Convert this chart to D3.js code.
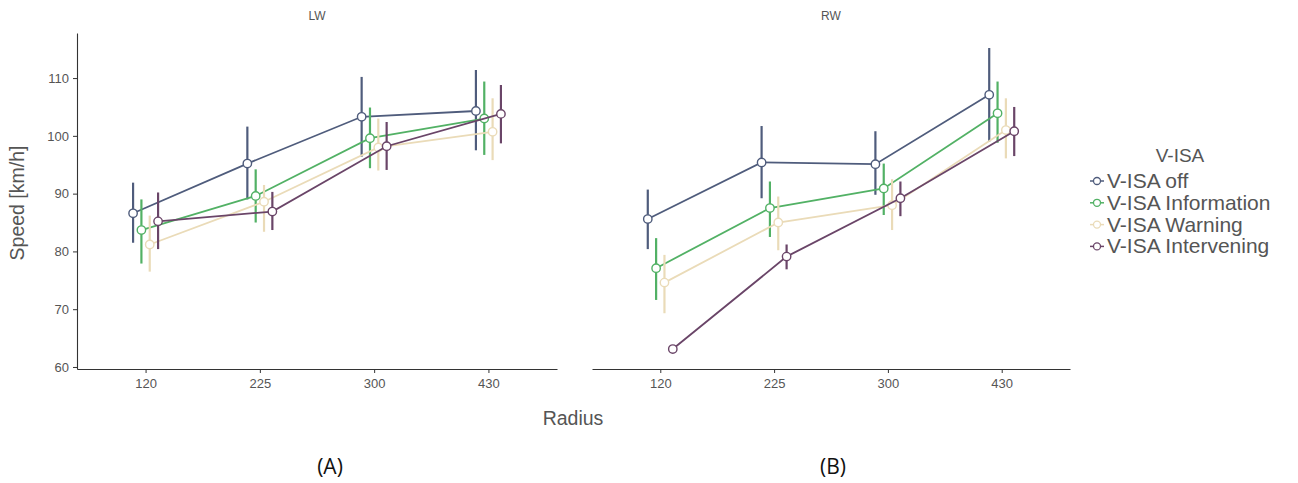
<!DOCTYPE html>
<html>
<head>
<meta charset="utf-8">
<script src="https://cdn.jsdelivr.net/npm/d3@7"></script>
<style>
  html, body { margin: 0; padding: 0; background: #fff; }
  svg { display: block; font-family: "Liberation Sans", Arial, sans-serif; }
</style>
</head>
<body>
<svg id="chart" width="1298" height="483"></svg>
<script>
// ---- data ----
const radii = ['120', '225', '300', '430'];
const seriesNames = ['V-ISA off', 'V-ISA Information', 'V-ISA Warning', 'V-ISA Intervening'];
const seriesColors = ['#4f5c7c', '#52b165', '#eadbb8', '#6a4568'];
const yTicks = [60, 70, 80, 90, 100, 110];

// LW panel: means and [low, high] error bars
const lwOff = [86.6, 95.2, 103.3, 104.3];
const lwOffCI = [[81.5, 91.9], [89.0, 101.6], [96.4, 110.2], [97.5, 111.4]];
const lwInfo = [83.7, 89.6, 99.6, 103.0];
const lwInfoCI = [[77.9, 89.0], [85.0, 94.2], [94.4, 104.9], [96.7, 109.4]];
const lwWarn = [81.2, 88.6, 98.0, 100.7];
const lwWarnCI = [[76.5, 86.2], [83.4, 91.5], [94.0, 103.0], [95.8, 106.5]];
const lwInterv = [85.2, 86.9, 98.2, 103.8];
const lwIntervCI = [[80.4, 90.2], [83.7, 90.3], [94.1, 102.4], [98.7, 108.8]];

// RW panel
const rwOff = [85.6, 95.4, 95.1, 107.1];
const rwOffCI = [[80.4, 90.7], [89.2, 101.7], [89.8, 100.8], [99.0, 115.2]];
const rwInfo = [77.1, 87.5, 90.9, 103.9];
const rwInfoCI = [[71.6, 82.3], [82.5, 92.1], [86.3, 95.2], [98.8, 109.4]];
const rwWarn = [74.6, 85.0, 88.0, 101.0];
const rwWarnCI = [[69.3, 79.4], [80.2, 89.5], [83.7, 92.5], [96.1, 106.5]];
const rwInterv = [63.1, 79.1, 89.2, 100.8];
const rwIntervCI = [[63.1, 63.1], [76.9, 81.2], [86.1, 92.1], [96.5, 105.0]];

const panels = [
  { title: 'LW', range: [77, 557], means: [lwOff, lwInfo, lwWarn, lwInterv], cis: [lwOffCI, lwInfoCI, lwWarnCI, lwIntervCI], yAxis: true },
  { title: 'RW', range: [592, 1070], means: [rwOff, rwInfo, rwWarn, rwInterv], cis: [rwOffCI, rwInfoCI, rwWarnCI, rwIntervCI], yAxis: false }
];

const svg = d3.select('#chart');
const y = d3.scaleLinear().domain([59.65, 117.8]).range([369, 33]);
const dodge = d3.scalePoint().domain(seriesNames).range([-12.5, 12.5]);
const textGrey = '#555';
const axisGrey = '#333';

panels.forEach(p => {
  const x = d3.scalePoint().domain(radii).range(p.range).padding(0.6);
  const g = svg.append('g');

  // x axis
  const xa = g.append('g').attr('transform', `translate(0,${y.range()[0]})`)
    .call(d3.axisBottom(x).tickSize(4).tickPadding(6).tickSizeOuter(0));
  xa.select('.domain').attr('stroke', axisGrey).attr('stroke-width', 1.1);
  xa.selectAll('.tick line').attr('stroke', axisGrey);
  xa.selectAll('.tick text').attr('fill', textGrey).style('font-size', '13px');

  if (p.yAxis) {
    const ya = g.append('g').attr('transform', `translate(${p.range[0]},0)`)
      .call(d3.axisLeft(y).tickValues(yTicks).tickSize(4).tickPadding(4).tickSizeOuter(0));
    ya.select('.domain').attr('stroke', axisGrey).attr('stroke-width', 1.1);
    ya.selectAll('.tick line').attr('stroke', axisGrey);
    ya.selectAll('.tick text').attr('fill', textGrey).style('font-size', '13px');
  }

  g.append('text').attr('x', (p.range[0] + p.range[1]) / 2).attr('y', 20)
    .attr('text-anchor', 'middle').attr('fill', textGrey).style('font-size', '12px').text(p.title);

  seriesNames.forEach((name, si) => {
    const col = seriesColors[si];
    const pts = radii.map((r, i) => ({ x: x(r) + dodge(name), m: p.means[si][i], lo: p.cis[si][i][0], hi: p.cis[si][i][1] }));
    const line = d3.line().x(d => d.x).y(d => y(d.m));
    g.append('path').datum(pts).attr('d', line).attr('fill', 'none')
      .attr('stroke', col).attr('stroke-width', 1.8);
    g.selectAll(null).data(pts).enter().append('line')
      .attr('x1', d => d.x).attr('x2', d => d.x)
      .attr('y1', d => y(d.lo)).attr('y2', d => y(d.hi))
      .attr('stroke', col).attr('stroke-width', 2.2);
    g.selectAll(null).data(pts).enter().append('circle')
      .attr('cx', d => d.x).attr('cy', d => y(d.m)).attr('r', 4.2)
      .attr('fill', '#fff').attr('stroke', col).attr('stroke-width', 1.4);
  });
});

// axis titles
svg.append('text').attr('transform', 'translate(24,203) rotate(-90)')
  .attr('text-anchor', 'middle').attr('fill', textGrey).style('font-size', '19.5px').text('Speed [km/h]');
svg.append('text').attr('x', 573).attr('y', 425)
  .attr('text-anchor', 'middle').attr('fill', textGrey).style('font-size', '19.5px').text('Radius');

// panel captions
svg.append('text').attr('x', 330).attr('y', 474).attr('text-anchor', 'middle')
  .attr('fill', '#111').style('font-family', '"Open Sans", sans-serif').style('font-size', '21px').text('(A)');
svg.append('text').attr('x', 833).attr('y', 474).attr('text-anchor', 'middle')
  .attr('fill', '#111').style('font-family', '"Open Sans", sans-serif').style('font-size', '21px').text('(B)');

// legend
const lg = svg.append('g');
lg.append('text').attr('x', 1180).attr('y', 162).attr('text-anchor', 'middle')
  .attr('fill', textGrey).style('font-size', '19px').text('V-ISA');
seriesNames.forEach((name, i) => {
  const cy = 181 + i * 21.8;
  lg.append('line').attr('x1', 1090).attr('x2', 1104).attr('y1', cy).attr('y2', cy)
    .attr('stroke', seriesColors[i]).attr('stroke-width', 1.5);
  lg.append('circle').attr('cx', 1097).attr('cy', cy).attr('r', 3.5)
    .attr('fill', '#fff').attr('stroke', seriesColors[i]).attr('stroke-width', 1.3);
  lg.append('text').attr('x', 1107).attr('y', cy + 7)
    .attr('fill', textGrey).style('font-size', '21px').text(name);
});
</script>
</body>
</html>
